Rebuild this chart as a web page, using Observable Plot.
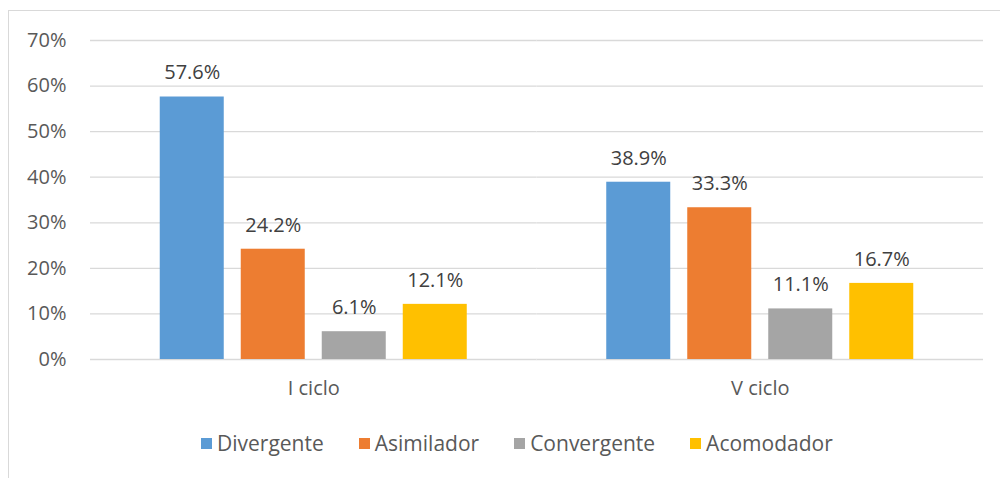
<!DOCTYPE html>
<html>
<head>
<meta charset="utf-8">
<script src="https://cdn.jsdelivr.net/npm/d3@7"></script>
<script src="https://cdn.jsdelivr.net/npm/@observablehq/plot@0.6"></script>
<style>
  body { margin: 0; background: #fff; }
  #wrap { position: relative; width: 1000px; height: 478px; background: #fff; overflow: hidden; font-family: "Open Sans", sans-serif; }
  #frame { position: absolute; left: 8px; top: 10px; width: 1100px; height: 600px; border-left: 1px solid #d9d9d9; border-top: 1px solid #d9d9d9; box-sizing: border-box; }
  #chart { position: absolute; left: 0; top: 0; }
  #legend { position: absolute; left: 201px; top: 429px; display: flex; gap: 35px; align-items: center; font-size: 21px; color: #595959; }
  .item { display: flex; align-items: center; gap: 5px; }
  .sw { width: 11px; height: 11px; display: inline-block; }
</style>
</head>
<body>
<div id="wrap">
  <div id="frame"></div>
  <div id="chart"></div>
  <div id="legend"></div>
</div>
<script>
const ciclos = ["I ciclo", "V ciclo"];
const estilos = ["Divergente", "Asimilador", "Convergente", "Acomodador"];
const colores = ["#5b9bd5", "#ed7d31", "#a5a5a5", "#ffc000"];
const valoresI = [57.6, 24.2, 6.1, 12.1];
const valoresV = [38.9, 33.3, 11.1, 16.7];
const yTicks = [0, 10, 20, 30, 40, 50, 60, 70];

const data = [];
estilos.forEach((e, i) => {
  data.push({ciclo: ciclos[0], estilo: e, value: valoresI[i]});
  data.push({ciclo: ciclos[1], estilo: e, value: valoresV[i]});
});

const chart = Plot.plot({
  width: 1000,
  height: 420,
  marginLeft: 90,
  marginRight: 17,
  marginTop: 40,
  marginBottom: 61,
  style: { fontFamily: "Open Sans, sans-serif", fontSize: "20px", color: "#595959", background: "transparent" },
  fx: { domain: ciclos, padding: 0, label: null, round: false },
  x: { domain: estilos, paddingInner: 17/81, paddingOuter: 0.861, axis: null, round: false },
  y: { domain: [0, 70], ticks: yTicks, axis: null },
  color: { domain: estilos, range: colores },
  marks: [
    Plot.ruleY(yTicks, { stroke: "#d9d9d9", strokeWidth: 1.3 }),
    Plot.axisFx({ anchor: "bottom", tickSize: 0, tickPadding: 21, fontSize: 20, fill: "#595959", label: null }),
    Plot.barY(data, { fx: "ciclo", x: "estilo", y: "value", fill: "estilo" }),
    Plot.text(data, { fx: "ciclo", x: "estilo", y: "value", text: d => d.value.toFixed(1) + "%", dy: -24, fontSize: 20, fill: "#404040" }),
    Plot.axisY({ ticks: yTicks, tickSize: 0, tickPadding: 24, tickFormat: d => d + "%", fontSize: 20, fill: "#595959", facetAnchor: "left", label: null })
  ]
});
document.getElementById("chart").appendChild(chart);

const legend = document.getElementById("legend");
estilos.forEach((e, i) => {
  const it = document.createElement("div");
  it.className = "item";
  const sw = document.createElement("span");
  sw.className = "sw";
  sw.style.background = colores[i];
  const t = document.createElement("span");
  t.textContent = e;
  it.appendChild(sw); it.appendChild(t);
  legend.appendChild(it);
});
</script>
</body>
</html>
